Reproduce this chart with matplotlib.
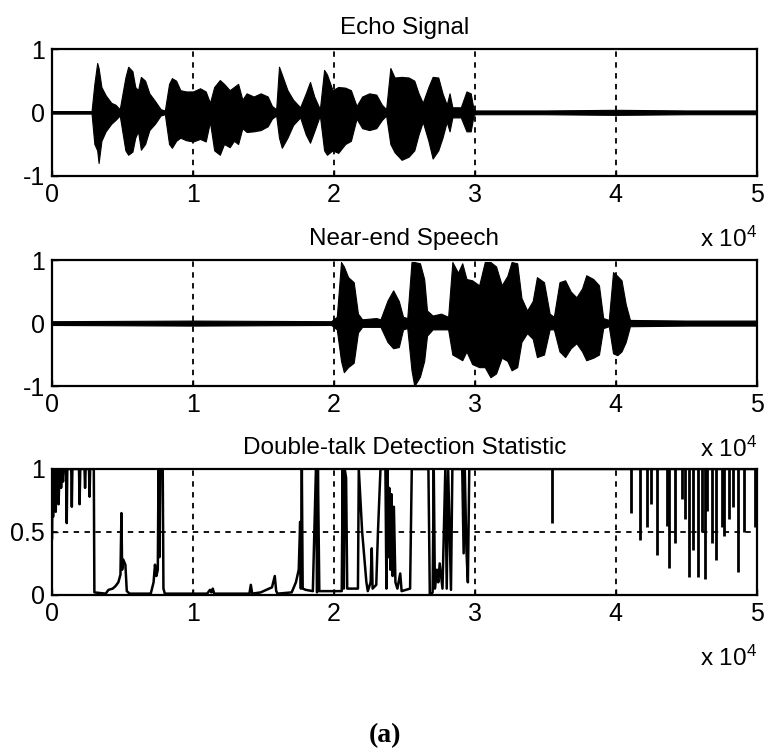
import numpy as np
import matplotlib.pyplot as plt

plt.rcParams['font.family'] = ['Liberation Sans', 'DejaVu Sans']
plt.rcParams['axes.unicode_minus'] = False
plt.rcParams['mathtext.default'] = 'regular'

# x axis in units of 10^4 samples
# Echo signal: envelope (upper / lower)
echo_x = [0.00, 0.28, 0.30, 0.32, 0.33, 0.35, 0.38, 0.42, 0.45, 0.48,
          0.52, 0.54, 0.57, 0.59, 0.61, 0.63, 0.66, 0.69, 0.73, 0.77,
          0.80, 0.83, 0.85, 0.88, 0.91, 0.95, 1.00, 1.05, 1.09, 1.12,
          1.15, 1.19, 1.22, 1.26, 1.29, 1.32, 1.35, 1.38, 1.43, 1.48,
          1.53, 1.56, 1.59, 1.61, 1.63, 1.67, 1.71, 1.76, 1.80, 1.83,
          1.86, 1.90, 1.93, 1.95, 1.99, 2.03, 2.08, 2.12, 2.16, 2.20,
          2.25, 2.30, 2.34, 2.37, 2.40, 2.43, 2.48, 2.53, 2.57, 2.60,
          2.63, 2.67, 2.70, 2.74, 2.77, 2.80, 2.82, 2.84, 2.90, 2.94,
          2.97, 2.99, 3.00, 3.50, 4.00, 4.50, 5.00]
echo_hi = [0.02, 0.02, 0.45, 0.78, 0.70, 0.40, 0.27, 0.15, 0.12, 0.05,
           0.55, 0.72, 0.65, 0.40, 0.35, 0.56, 0.50, 0.30, 0.18, 0.05,
           0.03, 0.45, 0.54, 0.50, 0.35, 0.33, 0.33, 0.38, 0.33, 0.15,
           0.40, 0.51, 0.45, 0.35, 0.40, 0.45, 0.20, 0.30, 0.25, 0.30,
           0.25, 0.10, 0.05, 0.72, 0.60, 0.35, 0.20, 0.08, 0.30, 0.48,
           0.25, 0.05, 0.67, 0.60, 0.35, 0.40, 0.39, 0.35, 0.10, 0.25,
           0.30, 0.28, 0.12, 0.05, 0.70, 0.55, 0.56, 0.55, 0.50, 0.30,
           0.15, 0.40, 0.56, 0.55, 0.30, 0.12, 0.30, 0.08, 0.08, 0.33,
           0.30, 0.05, 0.03, 0.03, 0.04, 0.03, 0.03]
echo_lo = [-0.02, -0.02, -0.50, -0.60, -0.80, -0.45, -0.30, -0.18, -0.12, -0.05,
           -0.60, -0.67, -0.62, -0.40, -0.30, -0.59, -0.50, -0.28, -0.18, -0.05,
           -0.03, -0.50, -0.56, -0.45, -0.40, -0.44, -0.46, -0.42, -0.46, -0.15,
           -0.60, -0.67, -0.50, -0.55, -0.45, -0.50, -0.25, -0.31, -0.30, -0.28,
           -0.22, -0.10, -0.05, -0.40, -0.56, -0.40, -0.20, -0.08, -0.35, -0.48,
           -0.30, -0.05, -0.60, -0.67, -0.60, -0.64, -0.50, -0.45, -0.10, -0.25,
           -0.28, -0.25, -0.12, -0.05, -0.50, -0.63, -0.75, -0.70, -0.60, -0.35,
           -0.15, -0.45, -0.73, -0.60, -0.40, -0.15, -0.30, -0.08, -0.08, -0.30,
           -0.30, -0.05, -0.03, -0.03, -0.04, -0.03, -0.03]

# Near-end speech envelope
near_x = [0.00, 1.00, 1.98, 2.02, 2.05, 2.07, 2.10, 2.14, 2.17, 2.20,
          2.30, 2.33, 2.38, 2.42, 2.46, 2.49, 2.52, 2.55, 2.57, 2.61,
          2.64, 2.66, 2.70, 2.76, 2.81, 2.84, 2.88, 2.91, 2.94, 2.98,
          3.03, 3.07, 3.11, 3.15, 3.19, 3.23, 3.26, 3.30, 3.33, 3.37,
          3.41, 3.44, 3.49, 3.53, 3.56, 3.60, 3.64, 3.68, 3.72, 3.76,
          3.79, 3.84, 3.88, 3.91, 3.95, 3.98, 4.01, 4.04, 4.07, 4.10,
          4.50, 5.00]
near_hi = [0.03, 0.04, 0.03, 0.10, 0.97, 0.90, 0.73, 0.65, 0.15, 0.06,
           0.08, 0.06, 0.36, 0.52, 0.35, 0.10, 0.08, 0.97, 0.97, 0.95,
           0.70, 0.20, 0.12, 0.15, 0.10, 0.97, 0.80, 0.95, 0.70, 0.68,
           0.60, 0.97, 0.97, 0.90, 0.60, 0.75, 0.97, 0.95, 0.40, 0.20,
           0.35, 0.73, 0.65, 0.15, 0.10, 0.65, 0.68, 0.50, 0.41, 0.55,
           0.76, 0.70, 0.60, 0.08, 0.05, 0.81, 0.75, 0.68, 0.30, 0.05,
           0.04, 0.04]
near_lo = [-0.03, -0.04, -0.03, -0.10, -0.60, -0.78, -0.70, -0.63, -0.15, -0.06,
           -0.06, -0.06, -0.30, -0.40, -0.38, -0.10, -0.08, -0.75, -1.00, -0.85,
           -0.60, -0.20, -0.10, -0.10, -0.10, -0.50, -0.55, -0.59, -0.45, -0.65,
           -0.70, -0.70, -0.86, -0.80, -0.55, -0.60, -0.75, -0.70, -0.30, -0.16,
           -0.25, -0.54, -0.50, -0.10, -0.10, -0.45, -0.54, -0.40, -0.32, -0.45,
           -0.59, -0.55, -0.50, -0.08, -0.05, -0.48, -0.51, -0.45, -0.30, -0.05,
           -0.04, -0.04]

# Double-talk detection statistic (trace)
dt_x = [0.000, 0.003, 0.007, 0.011, 0.016, 0.021, 0.026, 0.031, 0.036, 0.041,
        0.046, 0.052, 0.058, 0.064, 0.070, 0.078, 0.084, 0.100, 0.104, 0.108,
        0.136, 0.140, 0.144, 0.191, 0.195, 0.200, 0.230, 0.234, 0.238, 0.262,
        0.266, 0.270, 0.296, 0.300, 0.380, 0.400, 0.430, 0.450, 0.470, 0.485,
        0.492, 0.497, 0.505, 0.520, 0.530, 0.550, 0.700, 0.720, 0.730, 0.740,
        0.750, 0.755, 0.762, 0.768, 0.785, 0.790, 0.800, 1.100, 1.120, 1.130,
        1.140, 1.150, 1.400, 1.410, 1.420, 1.480, 1.520, 1.560, 1.580, 1.590,
        1.600, 1.700, 1.730, 1.750, 1.760, 1.765, 1.772, 1.778, 1.800, 1.850,
        1.872, 1.880, 1.886, 1.896, 2.000, 2.055, 2.062, 2.070, 2.076, 2.086,
        2.094, 2.170, 2.176, 2.200, 2.230, 2.240, 2.260, 2.268, 2.274, 2.300,
        2.312, 2.330, 2.365, 2.372, 2.380, 2.386, 2.392, 2.400, 2.408, 2.416,
        2.425, 2.436, 2.450, 2.470, 2.480, 2.540, 2.552, 2.670, 2.680, 2.700,
        2.708, 2.716, 2.730, 2.740, 2.750, 2.770, 2.790, 2.800, 2.810, 2.830,
        2.840, 2.910, 2.920, 2.928, 2.940, 2.950, 2.960, 5.000]
dt_y = [0.45, 0.95, 0.62, 1.00, 0.70, 0.98, 0.66, 1.00, 0.78, 1.00,
        0.72, 0.95, 1.00, 0.85, 1.00, 0.90, 1.00, 1.00, 0.57, 1.00,
        1.00, 0.70, 1.00, 1.00, 0.72, 1.00, 1.00, 0.85, 1.00, 1.00,
        0.78, 1.00, 1.00, 0.02, 0.01, 0.04, 0.05, 0.07, 0.10, 0.16,
        0.65, 0.20, 0.28, 0.24, 0.03, 0.01, 0.01, 0.10, 0.24, 0.15,
        0.20, 1.00, 0.30, 1.00, 1.00, 0.05, 0.01, 0.01, 0.04, 0.02,
        0.05, 0.01, 0.01, 0.08, 0.01, 0.02, 0.04, 0.06, 0.15, 0.03,
        0.01, 0.02, 0.10, 0.20, 0.58, 0.05, 1.00, 0.05, 0.04, 0.03,
        1.00, 0.02, 1.00, 0.03, 0.03, 0.03, 1.00, 0.05, 1.00, 0.93,
        0.05, 0.05, 1.00, 0.50, 0.10, 0.03, 0.10, 0.37, 0.05, 0.08,
        0.50, 1.00, 1.00, 0.05, 1.00, 0.30, 0.85, 0.20, 0.80, 0.15,
        0.70, 0.10, 0.05, 0.17, 0.03, 0.05, 1.00, 1.00, 0.00, 0.02,
        1.00, 0.05, 0.20, 0.10, 0.25, 0.05, 1.00, 0.05, 1.00, 0.04,
        1.00, 1.00, 0.33, 1.00, 0.35, 0.10, 1.00, 1.00]

# short dips from 1 in the later part
dip_x = [3.55, 4.11, 4.17, 4.22, 4.25, 4.29, 4.36, 4.38, 4.42, 4.47,
         4.49, 4.52, 4.55, 4.58, 4.61, 4.63, 4.65, 4.68, 4.71, 4.75,
         4.77, 4.80, 4.83, 4.87, 4.91, 4.99]
dip_y = [0.57, 0.65, 0.44, 0.54, 0.72, 0.32, 0.55, 0.21, 0.41, 0.76,
         0.60, 0.14, 0.36, 0.14, 0.50, 0.13, 0.67, 0.41, 0.28, 0.54,
         0.47, 0.60, 0.70, 0.18, 0.50, 0.54]

titles = ['Echo Signal', 'Near-end Speech', 'Double-talk Detection Statistic']
xticks = [0, 1, 2, 3, 4, 5]

fig = plt.figure(figsize=(7.66, 7.54), dpi=100)
rects = [[0.068, 0.767, 0.920, 0.168],
         [0.068, 0.488, 0.920, 0.167],
         [0.068, 0.211, 0.920, 0.167]]
axes = [fig.add_axes(r) for r in rects]

axes[0].fill_between(echo_x, echo_lo, echo_hi, color='k', lw=0.8)
axes[1].fill_between(near_x, near_lo, near_hi, color='k', lw=0.8)
axes[2].plot(dt_x, dt_y, color='k', lw=1.8)
axes[2].vlines(dip_x, dip_y, 1.0, color='k', lw=2.0)

for i, ax in enumerate(axes):
    ax.set_xlim(0, 5)
    ax.set_xticks(xticks)
    ax.set_xticklabels([str(t) for t in xticks])
    if i < 2:
        ax.set_ylim(-1, 1)
        ax.set_yticks([-1, 0, 1])
        ax.set_yticklabels(['-1', '0', '1'])
    else:
        ax.set_ylim(0, 1)
        ax.set_yticks([0, 0.5, 1])
        ax.set_yticklabels(['0', '0.5', '1'])
    ax.grid(True, color='k', linestyle=(0, (3, 3)), lw=1.3)
    ax.set_axisbelow(True)
    ax.tick_params(direction='in', length=4, width=1, labelsize=18, pad=5)
    for s in ax.spines.values():
        s.set_linewidth(1.6)
    ax.set_title(titles[i], fontsize=17.5, pad=11)
    ax.text(1.0, -0.56, 'x 10$^4$', transform=ax.transAxes,
            ha='right', va='baseline', fontsize=17.5)

fig.text(0.503, 0.025, '(a)', ha='center', va='center', fontsize=20,
         fontweight='bold', family=['Liberation Serif', 'DejaVu Serif'])

fig.savefig('out.png', dpi=100, facecolor='white')
